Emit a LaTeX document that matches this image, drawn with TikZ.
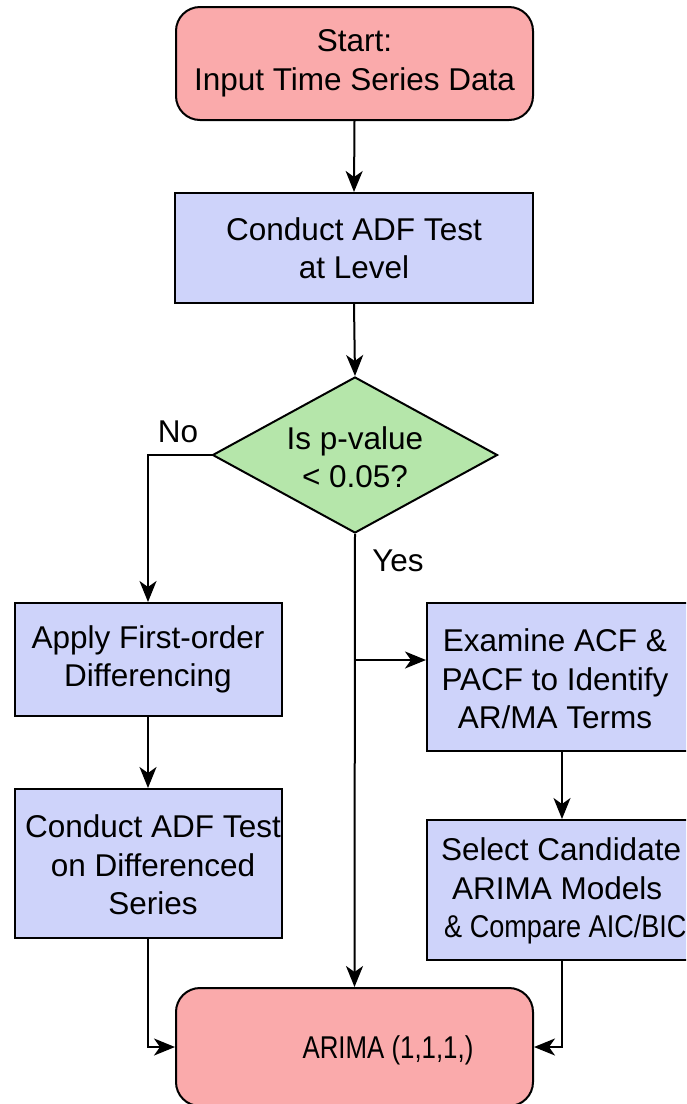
\documentclass[tikz,border=0pt]{standalone}
\usepackage{fontspec}
\setmainfont{Liberation Sans}
\usetikzlibrary{arrows.meta,shapes.geometric}
\definecolor{pinkfill}{RGB}{250,170,171}
\definecolor{lavfill}{RGB}{206,211,250}
\definecolor{greenfill}{RGB}{181,230,170}
\tikzset{
  txtfont/.style={font=\fontsize{31.5}{38.5}\selectfont},
  base/.style={draw=black, line width=2pt, inner sep=0pt, align=center, txtfont},
  term/.style={base, fill=pinkfill, rounded corners=24pt},
  proc/.style={base, fill=lavfill},
  decis/.style={base, fill=greenfill, diamond, aspect=1.83},
  plain/.style={txtfont, align=center, inner sep=0pt},
  arr/.style={line width=2pt, -{Stealth[length=21pt,width=17pt,inset=6pt]}},
  lbl/.style={font=\fontsize{31.5}{34}\selectfont, inner sep=0pt}
}
\begin{document}
\begin{tikzpicture}[x=1pt,y=-1pt]
\useasboundingbox (0,0) rectangle (686,1104);
\clip (0,0) rectangle (686,1104);
\node[term, minimum width=357pt, minimum height=113pt] (start) at (354.5,63.5) {Start:\\Input Time Series Data};
\node[proc, minimum width=358pt, minimum height=110pt] (adf) at (354,248) {Conduct ADF Test\\at Level};
\node[decis, minimum width=285pt, minimum height=156pt] (dec) at (355,455) {};
\node[plain] (dectxt) at (355,457) {Is p-value\\< 0.05?};
\node[proc, minimum width=267pt, minimum height=113pt] (apply) at (148,659.5) {Apply First-order\\Differencing};
\node[proc, minimum width=267pt, minimum height=149pt] (diff) at (148,863.5) {};
\node[plain] (difftxt) at (153,865) {Conduct ADF Test\\on Differenced\\Series};
\node[proc, minimum width=270pt, minimum height=148pt] (exam) at (562,677) {};
\node[plain] (examtxt) at (555,679) {Examine ACF \&\\PACF to Identify\\AR/MA Terms};
\node[proc, minimum width=270pt, minimum height=140pt] (sel) at (562,890) {};
\node[plain, align=left, anchor=west] (seltxt) at (441,891) {Select Candidate\\\hspace*{11pt}ARIMA Models\\\hspace*{3pt}\scalebox{0.86}[1]{\& Compare AIC/BIC}};
\node[term, minimum width=357pt, minimum height=118pt] (end) at (354.5,1047) {};
\node[plain] (endtxt) at (388,1050) {\scalebox{0.82}[1]{ARIMA (1,1,1,)}};
\node[lbl] (no) at (178,432) {No};
\node[lbl] (yes) at (398,561) {Yes};
\draw[arr] (start.south) -- (adf.north);
\draw[arr] (adf.south) -- (dec.north);
\draw[arr] (dec.west) -| (apply.north);
\draw[arr] (apply.south) -- (diff.north);
\draw[arr] (diff.south) |- (end.west);
\draw[arr] (dec.south) -- (end.north);
\coordinate (br) at (355,660);
\draw[arr] (br) -- (br -| exam.west);
\draw[arr] (exam.south) -- (sel.north);
\draw[arr] (sel.south) |- (end.east);
\end{tikzpicture}
\end{document}
